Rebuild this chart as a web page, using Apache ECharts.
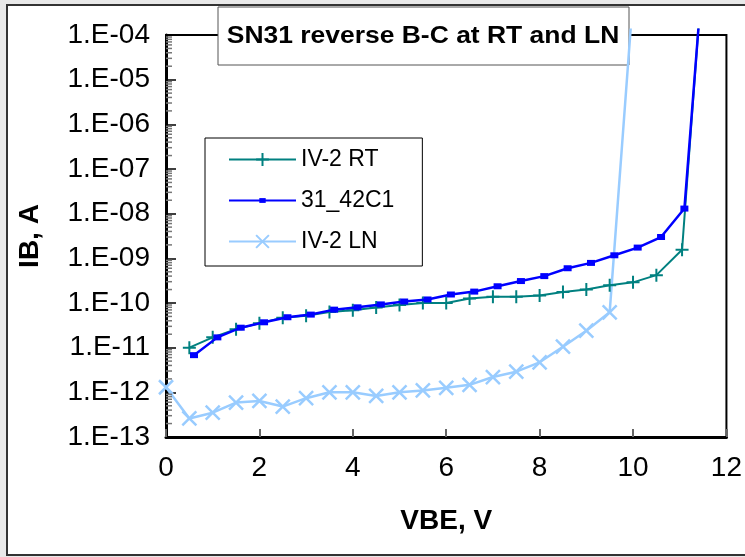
<!DOCTYPE html>
<html>
<head>
<meta charset="utf-8">
<script src="https://cdn.jsdelivr.net/npm/echarts@6/dist/echarts.min.js"></script>
<style>
html,body{margin:0;padding:0;background:#e9e9e9;}
#chart{width:745px;height:557px;}
</style>
</head>
<body>
<div id="chart"></div>
<script>
// ---- data ----
var titleText = 'SN31 reverse B-C at RT and LN';
var xAxisName = 'VBE, V';
var yAxisName = 'IB, A';
var xTicks = [0, 2, 4, 6, 8, 10, 12];
var yTickExponents = [-13, -12, -11, -10, -9, -8, -7, -6, -5, -4];
var yTickLabels = ['1.E-13','1.E-12','1.E-11','1.E-10','1.E-09','1.E-08','1.E-07','1.E-06','1.E-05','1.E-04'];

var seriesNames = ['IV-2 RT', '31_42C1', 'IV-2 LN'];

var rtV = [0.5, 1, 1.5, 2, 2.5, 3, 3.5, 4, 4.5, 5, 5.5, 6, 6.5, 7, 7.5, 8, 8.5, 9, 9.5, 10, 10.5, 11.05, 11.4];
var rtI = [1.0e-11, 1.7e-11, 2.6e-11, 3.5e-11, 4.7e-11, 5.2e-11, 6.3e-11, 6.9e-11, 7.9e-11, 9.0e-11, 1.0e-10, 1.0e-10,
           1.26e-10, 1.38e-10, 1.38e-10, 1.48e-10, 1.77e-10, 2.0e-10, 2.5e-10, 2.9e-10, 4.2e-10, 1.55e-9, 1.4e-4];

var c1V = [0.6, 1.1, 1.6, 2.1, 2.6, 3.1, 3.6, 4.1, 4.6, 5.1, 5.6, 6.1, 6.6, 7.1, 7.6, 8.1, 8.6, 9.1, 9.6, 10.1, 10.6, 11.1, 11.4];
var c1I = [6.8e-12, 1.7e-11, 2.8e-11, 3.7e-11, 4.8e-11, 5.5e-11, 7.1e-11, 8.0e-11, 9.3e-11, 1.08e-10, 1.2e-10, 1.55e-10,
           1.8e-10, 2.37e-10, 3.1e-10, 4.0e-10, 6.0e-10, 7.9e-10, 1.17e-9, 1.74e-9, 3.0e-9, 1.3e-8, 1.4e-4];

var lnV = [0, 0.5, 1, 1.5, 2, 2.5, 3, 3.5, 4, 4.5, 5, 5.5, 6, 6.5, 7, 7.5, 8, 8.5, 9, 9.5, 9.95];
var lnI = [1.3e-12, 2.6e-13, 3.5e-13, 5.9e-13, 6.4e-13, 4.8e-13, 7.4e-13, 1.0e-12, 1.0e-12, 8.3e-13, 1.0e-12, 1.1e-12,
           1.26e-12, 1.47e-12, 2.2e-12, 2.9e-12, 4.7e-12, 1.05e-11, 2.4e-11, 6.2e-11, 1.4e-4];

// ---- chart ----
var yMin = 1e-13, yMax = 1e-4;
var FONT = '"Liberation Sans", Arial, sans-serif';

function pairs(xs, ys) {
  return xs.map(function (x, i) {
    var item = { value: [x, ys[i]] };
    if (ys[i] > yMax) { item.symbol = 'none'; }
    return item;
  });
}

// minor tick positions (2..9 within each decade) for the log axis
var minorTicks = [];
for (var e = -13; e < -4; e++) {
  for (var k = 2; k <= 9; k++) { minorTicks.push([0, k * Math.pow(10, e)]); }
}

var chart = echarts.init(document.getElementById('chart'), null, { renderer: 'canvas' });

chart.setOption({
  animation: false,
  backgroundColor: 'transparent',
  textStyle: { fontFamily: FONT },
  grid: {
    left: 166, top: 35, width: 564, height: 402,
    show: true, borderColor: '#000', borderWidth: 2, backgroundColor: '#fff'
  },
  graphic: [
    {
      type: 'rect', z: -10, silent: true,
      shape: { x: 7, y: 5, width: 780, height: 550 },
      style: { fill: '#fff', stroke: '#333', lineWidth: 2 }
    },
    {
      type: 'group', z: 100,
      children: [
        { type: 'rect', shape: { x: 218, y: 7, width: 411, height: 58 },
          style: { fill: '#fff', stroke: '#555', lineWidth: 1 } },
        { type: 'text', x: 423, y: 37, scaleX: 1.15,
          style: { text: titleText, font: 'bold 23px ' + FONT, fill: '#000',
                   align: 'center', verticalAlign: 'middle' } }
      ]
    }
  ],
  legend: {
    data: seriesNames,
    orient: 'vertical',
    left: 205, top: 138,
    backgroundColor: '#fff', borderColor: '#000', borderWidth: 1,
    padding: [10, 28, 13, 23],
    itemWidth: 67, itemHeight: 16, itemGap: 18,
    textStyle: { fontSize: 23, color: '#000', fontFamily: FONT },
    z: 50
  },
  xAxis: {
    type: 'value', min: xTicks[0], max: xTicks[xTicks.length - 1], interval: 2,
    name: xAxisName, nameLocation: 'middle', nameGap: 70,
    nameTextStyle: { fontSize: 28, fontWeight: 'bold', color: '#000', fontFamily: FONT },
    axisLine: { show: true, onZero: false, lineStyle: { color: '#000', width: 3 } },
    axisTick: { show: true, inside: true, length: 8, lineStyle: { color: '#666', width: 2 } },
    axisLabel: { fontSize: 28, color: '#000', margin: 17, fontFamily: FONT },
    splitLine: { show: false }
  },
  yAxis: {
    type: 'log', logBase: 10, min: yMin, max: yMax,
    name: yAxisName, nameLocation: 'middle', nameGap: 122, nameRotate: 90,
    nameTextStyle: { fontSize: 28, fontWeight: 'bold', color: '#000', fontFamily: FONT },
    axisLine: { show: true, lineStyle: { color: '#000', width: 3 } },
    axisTick: { show: true, inside: true, length: 10, lineStyle: { color: '#000', width: 1.5 } },
    axisLabel: {
      fontSize: 28, color: '#000', margin: 16, fontFamily: FONT,
      formatter: function (v) {
        var ex = Math.round(Math.log10(v));
        var idx = yTickExponents.indexOf(ex);
        return idx >= 0 ? yTickLabels[idx] : '';
      }
    },
    splitLine: { show: false }
  },
  series: [
    {
      name: seriesNames[0], type: 'line', clip: false, z: 3,
      data: pairs(rtV, rtI),
      symbol: 'path://M0,6L12,6M6,0L6,12', symbolSize: 13,
      itemStyle: { color: '#008080', borderColor: '#008080', borderWidth: 2 },
      lineStyle: { color: '#008080', width: 2 }
    },
    {
      name: seriesNames[1], type: 'line', clip: false, z: 4,
      data: pairs(c1V, c1I),
      // small filled rectangle centred inside a 16x16 box
      symbol: 'path://M0,0M16,16M4,5L12,5L12,11L4,11Z', symbolSize: 16,
      itemStyle: { color: '#0000ff' },
      lineStyle: { color: '#0000ff', width: 2.5 }
    },
    {
      name: seriesNames[2], type: 'line', clip: false, z: 2,
      data: pairs(lnV, lnI),
      symbol: 'path://M0,0L12,12M12,0L0,12', symbolSize: 14,
      itemStyle: { color: '#99ccff', borderColor: '#99ccff', borderWidth: 2.5 },
      lineStyle: { color: '#99ccff', width: 2.5 }
    },
    {
      name: 'minorTicks', type: 'custom', silent: true, z: 5,
      data: minorTicks,
      renderItem: function (params, api) {
        var p = api.coord([api.value(0), api.value(1)]);
        return {
          type: 'line',
          shape: { x1: p[0], y1: p[1], x2: p[0] + 6, y2: p[1] },
          style: { stroke: '#777', lineWidth: 1.5 }
        };
      }
    }
  ]
});
</script>
</body>
</html>
